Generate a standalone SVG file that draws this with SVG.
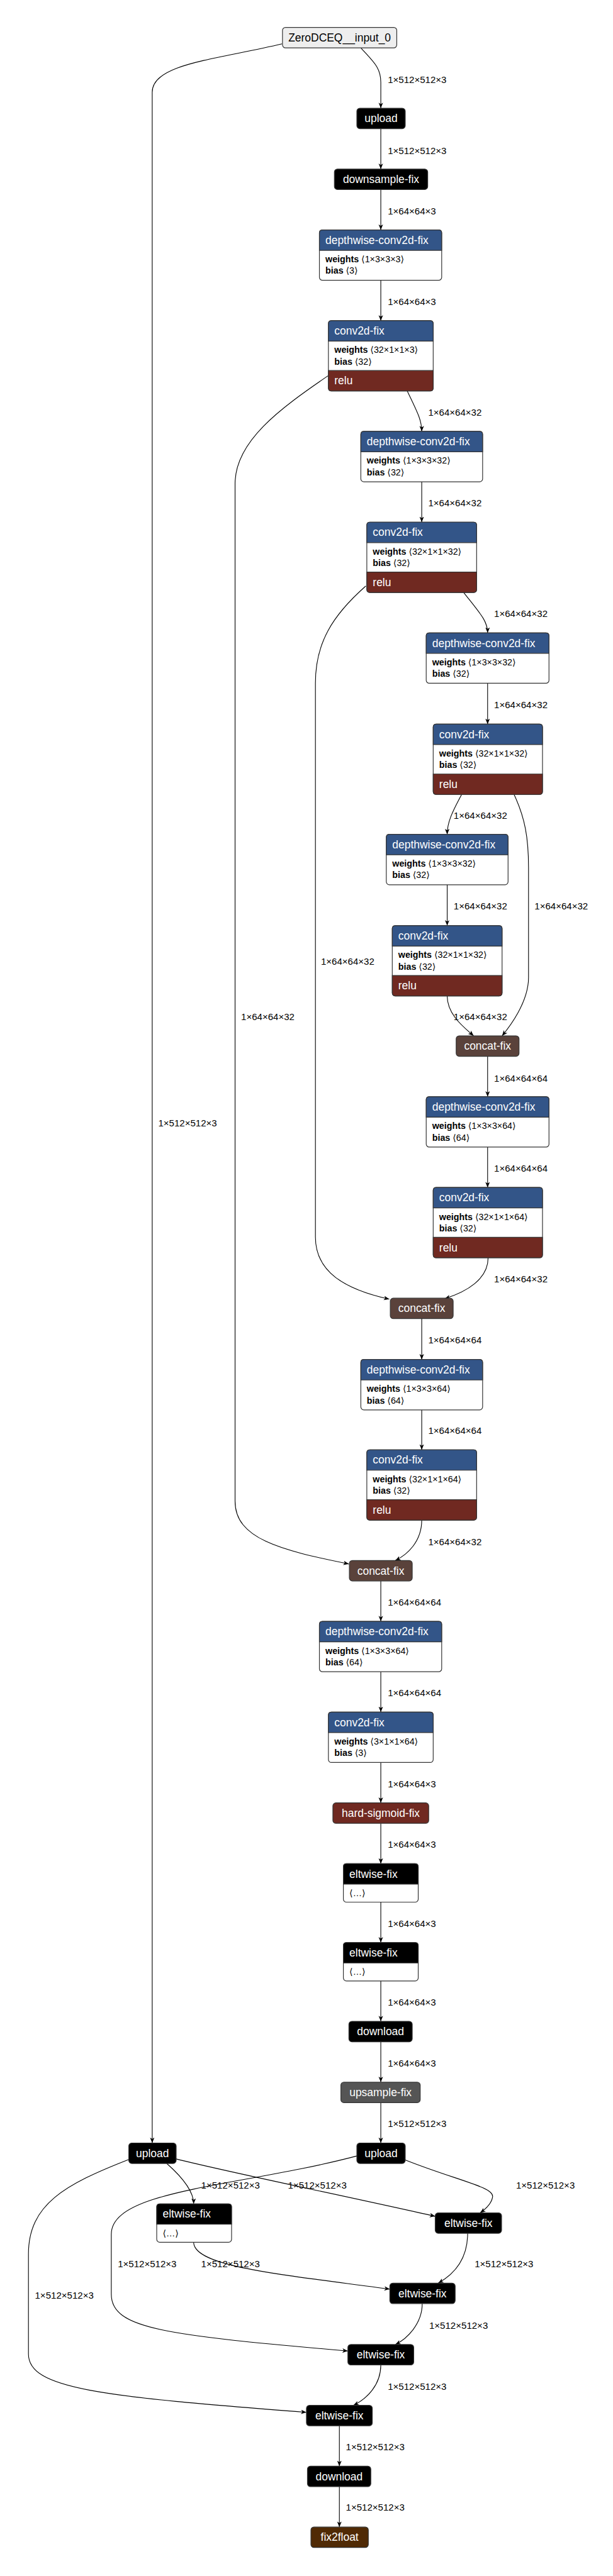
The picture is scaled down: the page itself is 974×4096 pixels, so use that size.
<svg xmlns="http://www.w3.org/2000/svg" width="974" height="4096" viewBox="0 0 974 4096">
<style>
.t{font-family:"Liberation Sans","DejaVu Sans",Arial,sans-serif;font-size:22px;fill:#fff}
.tk{fill:#000}
.c{text-anchor:middle}
.a{font-family:"Liberation Sans","DejaVu Sans",Arial,sans-serif;font-size:18px;fill:#000}
.b{font-weight:bold}
.l{font-family:"Liberation Sans","DejaVu Sans",Arial,sans-serif;font-size:19px;fill:#000}
.e path{fill:none;stroke:#000;stroke-width:1.4;marker-end:url(#arr)}
.n{stroke:#333;stroke-width:1.5}
.w{fill:#fff}
.blue{fill:#335588}
.red{fill:#702921}
.blk{fill:#000}
.cat{fill:#5a423b}
.gry{fill:#555}
.brn{fill:#502a05}
.inp{fill:#eee}
</style>
<defs>
<marker id="arr" markerWidth="12" markerHeight="10" refX="11" refY="4.5" orient="auto" markerUnits="userSpaceOnUse"><path d="M0,0 L11,4.5 L0,9 L3,4.5 Z" fill="#000"/></marker>
</defs>
<rect width="974" height="4096" fill="#fff"/>
<g transform="scale(0.793)">
<g id="connectors" class="e">
<path d="M723,96 C748,124 763,135 763,165 L763,217"/>
<path d="M763,258 L763,339"/>
<path d="M763,380 L763,461"/>
<path d="M763,562 L763,643"/>
<path d="M816,784 C836,826 845,842 845,865"/>
<path d="M845,966 L845,1047"/>
<path d="M929,1188 C962,1230 977,1245 977,1269"/>
<path d="M977,1370 L977,1452"/>
<path d="M925,1593 C905,1630 896,1650 896,1673"/>
<path d="M896,1774 L896,1856"/>
<path d="M896,1997 C896,2035 930,2060 949,2077"/>
<path d="M1030,1593 C1052,1640 1059,1680 1059,1740 L1059,1960 C1059,2010 1020,2060 1006,2077"/>
<path d="M977,2118 L977,2199"/>
<path d="M977,2300 L977,2381"/>
<path d="M978,2522 C978,2565 935,2590 891,2604"/>
<path d="M733,1175 C665,1235 632,1290 632,1370 L632,2480 C632,2550 690,2585 780,2605"/>
<path d="M845,2644 L845,2726"/>
<path d="M845,2827 L845,2907"/>
<path d="M845,3048 C845,3092 815,3118 792,3129"/>
<path d="M658,753 C560,820 471,885 471,970 L471,3010 C471,3085 560,3108 699,3136"/>
<path d="M763,3170 L763,3251"/>
<path d="M763,3352 L763,3433"/>
<path d="M763,3534 L763,3615"/>
<path d="M763,3656 L763,3737"/>
<path d="M763,3814 L763,3895"/>
<path d="M763,3972 L763,4053"/>
<path d="M763,4094 L763,4175"/>
<path d="M763,4216 L763,4297"/>
<path d="M565,88 C430,120 305,128 305,185 L305,4297"/>
<path d="M334,4338 C368,4368 388,4395 388,4419"/>
<path d="M353,4329 C460,4356 700,4405 872,4444"/>
<path d="M812,4331 C915,4372 990,4385 987,4405 C985,4418 975,4428 962,4437"/>
<path d="M715,4323 C480,4385 223,4390 223,4480 L223,4600 C223,4670 330,4682 697,4714"/>
<path d="M258,4330 C130,4380 57,4420 57,4520 L57,4720 C57,4790 200,4805 614,4837"/>
<path d="M388,4496 C388,4545 560,4560 781,4590"/>
<path d="M937,4478 C937,4530 910,4560 878,4578"/>
<path d="M846,4619 C846,4660 815,4690 792,4701"/>
<path d="M763,4742 C763,4782 735,4810 708,4823"/>
<path d="M680,4864 L680,4945"/>
<path d="M680,4986 L680,5067"/>
</g>
<g id="edge-labels" class="l">
<text x="777" y="166.5">1×512×512×3</text>
<text x="777" y="308.5">1×512×512×3</text>
<text x="777" y="429.5">1×64×64×3</text>
<text x="777" y="611.5">1×64×64×3</text>
<text x="858" y="833.5">1×64×64×32</text>
<text x="858" y="1015.5">1×64×64×32</text>
<text x="990" y="1237.5">1×64×64×32</text>
<text x="990" y="1419.5">1×64×64×32</text>
<text x="909" y="1641.5">1×64×64×32</text>
<text x="909" y="1823.5">1×64×64×32</text>
<text x="909" y="2045.5">1×64×64×32</text>
<text x="1071" y="1823.5">1×64×64×32</text>
<text x="990" y="2168.5">1×64×64×64</text>
<text x="990" y="2349.5">1×64×64×64</text>
<text x="990" y="2571.5">1×64×64×32</text>
<text x="643" y="1934.5">1×64×64×32</text>
<text x="858" y="2693.5">1×64×64×64</text>
<text x="858" y="2875.5">1×64×64×64</text>
<text x="858" y="3098.5">1×64×64×32</text>
<text x="483" y="2045.5">1×64×64×32</text>
<text x="777" y="3219.5">1×64×64×64</text>
<text x="777" y="3401.5">1×64×64×64</text>
<text x="777" y="3583.5">1×64×64×3</text>
<text x="777" y="3705.5">1×64×64×3</text>
<text x="777" y="3863.5">1×64×64×3</text>
<text x="777" y="4021.5">1×64×64×3</text>
<text x="777" y="4143.5">1×64×64×3</text>
<text x="777" y="4264.5">1×512×512×3</text>
<text x="317" y="2258.5">1×512×512×3</text>
<text x="403" y="4388.5">1×512×512×3</text>
<text x="577" y="4388.5">1×512×512×3</text>
<text x="1034" y="4388.5">1×512×512×3</text>
<text x="236" y="4545.5">1×512×512×3</text>
<text x="70" y="4608.5">1×512×512×3</text>
<text x="403" y="4545.5">1×512×512×3</text>
<text x="951" y="4545.5">1×512×512×3</text>
<text x="860" y="4669.5">1×512×512×3</text>
<text x="777" y="4791.5">1×512×512×3</text>
<text x="693" y="4913.5">1×512×512×3</text>
<text x="693" y="5034.5">1×512×512×3</text>
</g>

<g id="input"><rect class="n inp" x="566" y="55" width="229" height="41" rx="6"/><text class="t tk c" x="680.5" y="83">ZeroDCEQ__input_0</text></g>
<g id="upload1"><rect class="n blk" x="715" y="217" width="97" height="41" rx="6"/><text class="t c" x="763.5" y="245">upload</text></g>
<g id="downsample"><rect class="n blk" x="670" y="339" width="187" height="41" rx="6"/><text class="t c" x="763.5" y="367">downsample-fix</text></g>

<g id="dw1"><rect class="n w" x="640" y="461" width="245" height="101" rx="6"/><path class="n blue" d="M640,502 V467 Q640,461 646,461 H879 Q885,461 885,467 V502 Z"/><text class="t" x="652" y="489">depthwise-conv2d-fix</text><text class="a" x="652" y="526"><tspan class="b">weights</tspan> ⟨1×3×3×3⟩</text><text class="a" x="652" y="549"><tspan class="b">bias</tspan> ⟨3⟩</text></g>

<g id="conv1"><rect class="n w" x="658" y="643" width="210" height="141" rx="6"/><path class="n blue" d="M658,684 V649 Q658,643 664,643 H862 Q868,643 868,649 V684 Z"/><path class="n red" d="M658,743 H868 V778 Q868,784 862,784 H664 Q658,784 658,778 Z"/><text class="t" x="670" y="671">conv2d-fix</text><text class="a" x="670" y="708"><tspan class="b">weights</tspan> ⟨32×1×1×3⟩</text><text class="a" x="670" y="731"><tspan class="b">bias</tspan> ⟨32⟩</text><text class="t" x="670" y="771">relu</text></g>

<g id="dw2"><rect class="n w" x="723" y="865" width="244" height="101" rx="6"/><path class="n blue" d="M723,906 V871 Q723,865 729,865 H961 Q967,865 967,871 V906 Z"/><text class="t" x="735" y="893">depthwise-conv2d-fix</text><text class="a" x="735" y="930"><tspan class="b">weights</tspan> ⟨1×3×3×32⟩</text><text class="a" x="735" y="953"><tspan class="b">bias</tspan> ⟨32⟩</text></g>

<g id="conv2"><rect class="n w" x="735" y="1047" width="220" height="141" rx="6"/><path class="n blue" d="M735,1088 V1053 Q735,1047 741,1047 H949 Q955,1047 955,1053 V1088 Z"/><path class="n red" d="M735,1147 H955 V1182 Q955,1188 949,1188 H741 Q735,1188 735,1182 Z"/><text class="t" x="747" y="1075">conv2d-fix</text><text class="a" x="747" y="1112"><tspan class="b">weights</tspan> ⟨32×1×1×32⟩</text><text class="a" x="747" y="1135"><tspan class="b">bias</tspan> ⟨32⟩</text><text class="t" x="747" y="1175">relu</text></g>

<g id="dw3"><rect class="n w" x="854" y="1269" width="246" height="101" rx="6"/><path class="n blue" d="M854,1310 V1275 Q854,1269 860,1269 H1094 Q1100,1269 1100,1275 V1310 Z"/><text class="t" x="866" y="1297">depthwise-conv2d-fix</text><text class="a" x="866" y="1334"><tspan class="b">weights</tspan> ⟨1×3×3×32⟩</text><text class="a" x="866" y="1357"><tspan class="b">bias</tspan> ⟨32⟩</text></g>

<g id="conv3"><rect class="n w" x="868" y="1452" width="219" height="141" rx="6"/><path class="n blue" d="M868,1493 V1458 Q868,1452 874,1452 H1081 Q1087,1452 1087,1458 V1493 Z"/><path class="n red" d="M868,1552 H1087 V1587 Q1087,1593 1081,1593 H874 Q868,1593 868,1587 Z"/><text class="t" x="880" y="1480">conv2d-fix</text><text class="a" x="880" y="1517"><tspan class="b">weights</tspan> ⟨32×1×1×32⟩</text><text class="a" x="880" y="1540"><tspan class="b">bias</tspan> ⟨32⟩</text><text class="t" x="880" y="1580">relu</text></g>

<g id="dw4"><rect class="n w" x="774" y="1673" width="244" height="101" rx="6"/><path class="n blue" d="M774,1714 V1679 Q774,1673 780,1673 H1012 Q1018,1673 1018,1679 V1714 Z"/><text class="t" x="786" y="1701">depthwise-conv2d-fix</text><text class="a" x="786" y="1738"><tspan class="b">weights</tspan> ⟨1×3×3×32⟩</text><text class="a" x="786" y="1761"><tspan class="b">bias</tspan> ⟨32⟩</text></g>

<g id="conv4"><rect class="n w" x="786" y="1856" width="220" height="141" rx="6"/><path class="n blue" d="M786,1897 V1862 Q786,1856 792,1856 H1000 Q1006,1856 1006,1862 V1897 Z"/><path class="n red" d="M786,1956 H1006 V1991 Q1006,1997 1000,1997 H792 Q786,1997 786,1991 Z"/><text class="t" x="798" y="1884">conv2d-fix</text><text class="a" x="798" y="1921"><tspan class="b">weights</tspan> ⟨32×1×1×32⟩</text><text class="a" x="798" y="1944"><tspan class="b">bias</tspan> ⟨32⟩</text><text class="t" x="798" y="1984">relu</text></g>

<g id="concat1"><rect class="n cat" x="914" y="2077" width="126" height="41" rx="6"/><text class="t c" x="977" y="2105">concat-fix</text></g>

<g id="dw5"><rect class="n w" x="854" y="2199" width="246" height="101" rx="6"/><path class="n blue" d="M854,2240 V2205 Q854,2199 860,2199 H1094 Q1100,2199 1100,2205 V2240 Z"/><text class="t" x="866" y="2227">depthwise-conv2d-fix</text><text class="a" x="866" y="2264"><tspan class="b">weights</tspan> ⟨1×3×3×64⟩</text><text class="a" x="866" y="2287"><tspan class="b">bias</tspan> ⟨64⟩</text></g>

<g id="conv5"><rect class="n w" x="868" y="2381" width="219" height="141" rx="6"/><path class="n blue" d="M868,2422 V2387 Q868,2381 874,2381 H1081 Q1087,2381 1087,2387 V2422 Z"/><path class="n red" d="M868,2481 H1087 V2516 Q1087,2522 1081,2522 H874 Q868,2522 868,2516 Z"/><text class="t" x="880" y="2409">conv2d-fix</text><text class="a" x="880" y="2446"><tspan class="b">weights</tspan> ⟨32×1×1×64⟩</text><text class="a" x="880" y="2469"><tspan class="b">bias</tspan> ⟨32⟩</text><text class="t" x="880" y="2509">relu</text></g>

<g id="concat2"><rect class="n cat" x="782" y="2603" width="126" height="41" rx="6"/><text class="t c" x="845" y="2631">concat-fix</text></g>

<g id="dw6"><rect class="n w" x="723" y="2726" width="244" height="101" rx="6"/><path class="n blue" d="M723,2767 V2732 Q723,2726 729,2726 H961 Q967,2726 967,2732 V2767 Z"/><text class="t" x="735" y="2754">depthwise-conv2d-fix</text><text class="a" x="735" y="2791"><tspan class="b">weights</tspan> ⟨1×3×3×64⟩</text><text class="a" x="735" y="2814"><tspan class="b">bias</tspan> ⟨64⟩</text></g>

<g id="conv6"><rect class="n w" x="735" y="2907" width="220" height="141" rx="6"/><path class="n blue" d="M735,2948 V2913 Q735,2907 741,2907 H949 Q955,2907 955,2913 V2948 Z"/><path class="n red" d="M735,3007 H955 V3042 Q955,3048 949,3048 H741 Q735,3048 735,3042 Z"/><text class="t" x="747" y="2935">conv2d-fix</text><text class="a" x="747" y="2972"><tspan class="b">weights</tspan> ⟨32×1×1×64⟩</text><text class="a" x="747" y="2995"><tspan class="b">bias</tspan> ⟨32⟩</text><text class="t" x="747" y="3035">relu</text></g>

<g id="concat3"><rect class="n cat" x="700" y="3129" width="126" height="41" rx="6"/><text class="t c" x="763" y="3157">concat-fix</text></g>

<g id="dw7"><rect class="n w" x="640" y="3251" width="245" height="101" rx="6"/><path class="n blue" d="M640,3292 V3257 Q640,3251 646,3251 H879 Q885,3251 885,3257 V3292 Z"/><text class="t" x="652" y="3279">depthwise-conv2d-fix</text><text class="a" x="652" y="3316"><tspan class="b">weights</tspan> ⟨1×3×3×64⟩</text><text class="a" x="652" y="3339"><tspan class="b">bias</tspan> ⟨64⟩</text></g>

<g id="conv7"><rect class="n w" x="658" y="3433" width="210" height="101" rx="6"/><path class="n blue" d="M658,3474 V3439 Q658,3433 664,3433 H862 Q868,3433 868,3439 V3474 Z"/><text class="t" x="670" y="3461">conv2d-fix</text><text class="a" x="670" y="3498"><tspan class="b">weights</tspan> ⟨3×1×1×64⟩</text><text class="a" x="670" y="3521"><tspan class="b">bias</tspan> ⟨3⟩</text></g>

<g id="hardsigmoid"><rect class="n red" x="667" y="3615" width="192" height="41" rx="6"/><text class="t c" x="763" y="3643">hard-sigmoid-fix</text></g>

<g id="eltwise1"><rect class="n w" x="688" y="3737" width="150" height="77" rx="6"/><path class="n blk" d="M688,3778 V3743 Q688,3737 694,3737 H832 Q838,3737 838,3743 V3778 Z"/><text class="t" x="700" y="3765">eltwise-fix</text><text class="a" x="700" y="3802">⟨…⟩</text></g>

<g id="eltwise2"><rect class="n w" x="688" y="3895" width="150" height="77" rx="6"/><path class="n blk" d="M688,3936 V3901 Q688,3895 694,3895 H832 Q838,3895 838,3901 V3936 Z"/><text class="t" x="700" y="3923">eltwise-fix</text><text class="a" x="700" y="3960">⟨…⟩</text></g>

<g id="download1"><rect class="n blk" x="699" y="4053" width="127" height="41" rx="6"/><text class="t c" x="762.5" y="4081">download</text></g>
<g id="upsample"><rect class="n gry" x="683" y="4175" width="159" height="41" rx="6"/><text class="t c" x="762.5" y="4203">upsample-fix</text></g>
<g id="uploadL"><rect class="n blk" x="258" y="4297" width="95" height="41" rx="6"/><text class="t c" x="305.5" y="4325">upload</text></g>
<g id="uploadR"><rect class="n blk" x="715" y="4297" width="97" height="41" rx="6"/><text class="t c" x="763.5" y="4325">upload</text></g>

<g id="eltwiseE"><rect class="n w" x="314" y="4419" width="150" height="77" rx="6"/><path class="n blk" d="M314,4460 V4425 Q314,4419 320,4419 H458 Q464,4419 464,4425 V4460 Z"/><text class="t" x="326" y="4447">eltwise-fix</text><text class="a" x="326" y="4484">⟨…⟩</text></g>

<g id="eltwiseA"><rect class="n blk" x="872" y="4437" width="133" height="41" rx="6"/><text class="t c" x="938.5" y="4465">eltwise-fix</text></g>
<g id="eltwiseB"><rect class="n blk" x="781" y="4578" width="131" height="41" rx="6"/><text class="t c" x="846.5" y="4606">eltwise-fix</text></g>
<g id="eltwiseC"><rect class="n blk" x="697" y="4701" width="132" height="41" rx="6"/><text class="t c" x="763" y="4729">eltwise-fix</text></g>
<g id="eltwiseF"><rect class="n blk" x="614" y="4823" width="132" height="41" rx="6"/><text class="t c" x="680" y="4851">eltwise-fix</text></g>
<g id="download2"><rect class="n blk" x="616" y="4945" width="127" height="41" rx="6"/><text class="t c" x="679.5" y="4973">download</text></g>
<g id="fix2float"><rect class="n brn" x="623" y="5067" width="115" height="41" rx="6"/><text class="t c" x="680.5" y="5095">fix2float</text></g>
</g>
</svg>
